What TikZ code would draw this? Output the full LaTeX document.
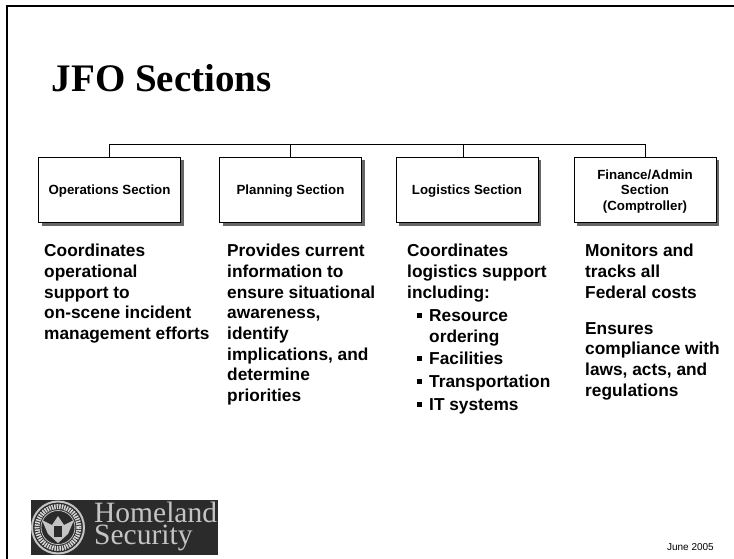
\documentclass[tikz,border=0pt]{standalone}
\usepackage{fontspec}
\setmainfont{Liberation Sans}
\newfontfamily\titlefont{Liberation Serif}
\definecolor{logobg}{HTML}{2B2B2B}
\definecolor{logofg}{HTML}{C4C4C4}
\newcommand{\itemsq}{\makebox[12pt][l]{\rule[3pt]{5pt}{5pt}}}
\tikzset{x=1pt,y=-1pt,
  secbox/.style={draw=black,line width=1pt,fill=white,minimum width=142pt,minimum height=65.5pt,inner sep=0pt},
  secshadow/.style={fill=black!60,minimum width=142pt,minimum height=65.5pt,inner sep=0pt},
  sectext/.style={inner sep=0pt,align=center,font=\fontsize{13.3}{15.5}\selectfont\bfseries},
  body/.style={anchor=north west,inner sep=0pt,align=left,font=\fontsize{17.3}{20.7}\selectfont\bfseries},
  itemtext/.style={anchor=base west,inner sep=0pt,align=left,font=\fontsize{17.3}{20.7}\selectfont\bfseries},
  logotext/.style={anchor=base west,inner sep=0pt,text=logofg,font=\titlefont\fontsize{29.5}{22}\selectfont},
  conn/.style={draw=black,line width=.8pt},
}
\begin{document}
\begin{tikzpicture}
\useasboundingbox (0,0) rectangle (734,559);
\fill[white] (0,0) rectangle (734,559);
\draw[black,line width=2pt] (6.5,559) -- (6.5,6.5) -- (734,6.5);
\node[anchor=base west,inner sep=0pt,font=\titlefont\fontsize{39}{42}\selectfont\bfseries] (title) at (51.5,92) {JFO Sections};
\foreach \x in {109.5,290.5,467,645}{
  \node[secshadow] at (\x+3,193) {};
}
\node[secbox] (ops) at (109.5,190) {};
\node[secbox] (plan) at (290.5,190) {};
\node[secbox] (log) at (467,190) {};
\node[secbox] (fin) at (645,190) {};
\node[sectext] (opsT) at (109.5,191.5) {Operations Section};
\node[sectext] (planT) at (290.5,191.5) {Planning Section};
\node[sectext] (logT) at (467,191.5) {Logistics Section};
\node[sectext] (finT) at (645,191.5) {Finance/Admin\\Section\\(Comptroller)};
\coordinate (bus) at (290,144.3);
\draw[conn] (ops.north) -- (ops.north |- bus) -- (fin.north |- bus) -- (fin.north);
\draw[conn] (plan.north) -- (plan.north |- bus);
\draw[conn] ([xshift=-3.3pt]log.north) -- ([xshift=-3.3pt]log.north |- bus);
\node[body] (t1) at (44,244) {Coordinates\\operational\\support to\\on-scene incident\\management efforts};
\node[body] (t2) at (227,244) {Provides current\\information to\\ensure situational\\awareness,\\identify\\implications, and\\determine\\priorities};
\node[body] (t3) at (407,244) {Coordinates\\logistics support\\including:};
\node[itemtext] (t4a) at (417,342) {\itemsq Resource\\\hspace*{12pt}ordering};
\node[itemtext] (t4b) at (417,364) {\itemsq Facilities};
\node[itemtext] (t4c) at (417,387) {\itemsq Transportation};
\node[itemtext] (t4d) at (417,410) {\itemsq IT systems};
\node[body] (t5) at (585,244) {Monitors and\\tracks all\\Federal costs};
\node[body] (t6) at (585,322) {Ensures\\compliance with\\laws, acts, and\\regulations};
\fill[logobg] (31,500) rectangle (218,555);
\draw[logofg,line width=2pt] (58,527.5) circle (26);
\draw[logofg!70,line width=5pt,dash pattern=on 1.5pt off 1pt] (58,527.5) circle (21);
\draw[logofg,line width=.8pt] (58,527.5) circle (17);
\fill[logofg] (42,520) -- (52,525) -- (58,516) -- (64,525) -- (74,520) -- (68,534) -- (58,543) -- (48,534) -- cycle;
\fill[logobg] (54,526) rectangle (62,537);
\node[logotext] (logoA) at (94,522.5) {Homeland};
\node[logotext] (logoB) at (94,544.5) {Security};
\node[anchor=base east,inner sep=0pt,font=\fontsize{10}{12}\selectfont] (date) at (714,550) {June 2005};
\end{tikzpicture}
\end{document}
